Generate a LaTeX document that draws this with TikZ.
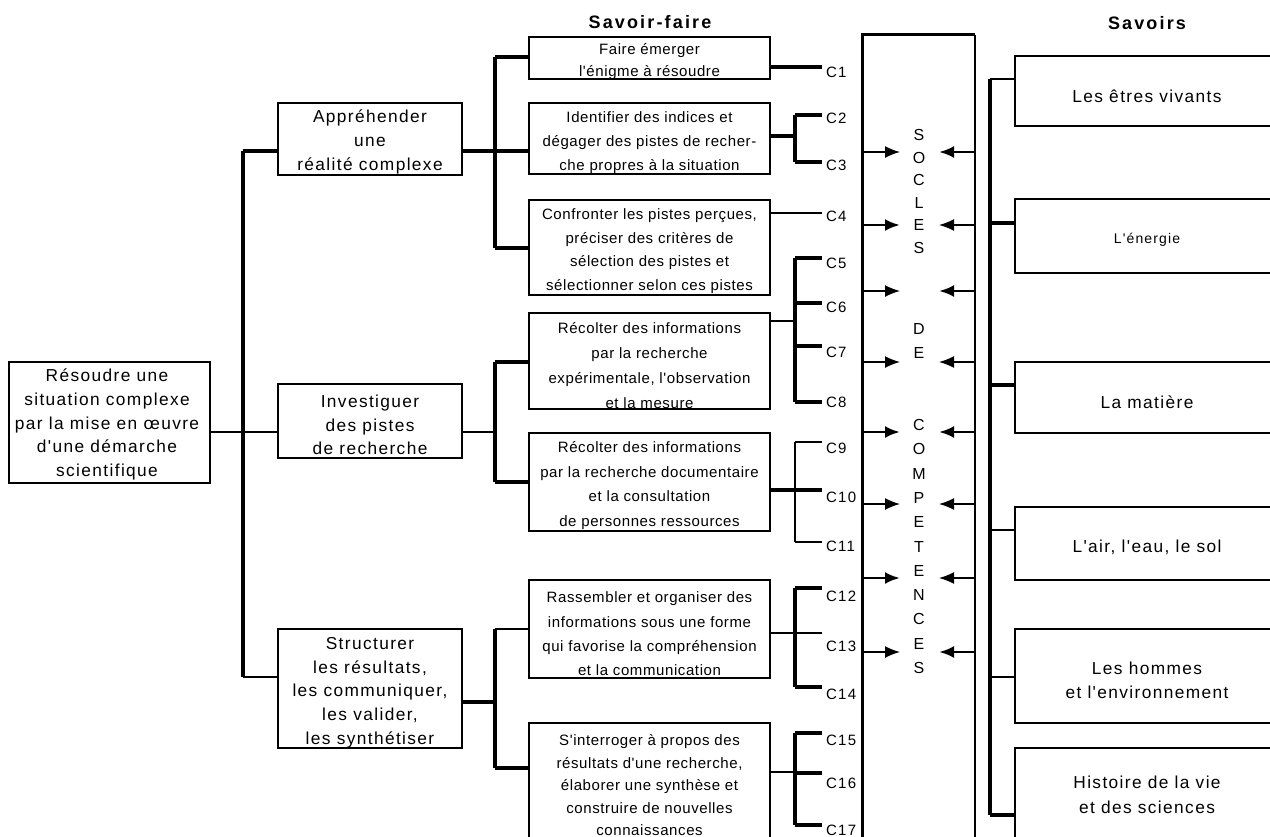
\documentclass[tikz,border=0pt]{standalone}
\usepackage{fontspec}
\setmainfont{Liberation Sans}
\newfontfamily\bigf[LetterSpace=8]{Liberation Sans}
\newfontfamily\smf[LetterSpace=4]{Liberation Sans}
\newfontfamily\titf[LetterSpace=12]{Liberation Sans}
\newfontfamily\cf[LetterSpace=8]{Liberation Sans}
\usetikzlibrary{arrows.meta}
\begin{document}
\begin{tikzpicture}[x=1pt,y=-1pt,
  thk/.style={line width=3.1pt},
  thn/.style={line width=1.5pt},
  bx/.style={draw, rectangle, inner sep=0pt, line width=2.8pt},
  bxm/.style={draw, rectangle, inner sep=0pt, line width=2.1pt},
  big/.style={font=\bigf\fontsize{17.3}{23.75}\selectfont, align=center, inner sep=0pt},
  sml/.style={font=\smf\fontsize{15}{24}\selectfont, align=center, inner sep=0pt},
  cl/.style={font=\cf\fontsize{15}{18}\selectfont, anchor=west, inner sep=0pt},
  tit/.style={font=\titf\bfseries\fontsize{18}{20}\selectfont, inner sep=0pt},
  let/.style={font=\fontsize{16}{18}\selectfont, inner sep=0pt},
  arr/.style={-{Latex[length=15pt,width=12pt]}, line width=1.5pt},
  arrk/.style={-{Latex[length=15pt,width=12pt]}, line width=2.8pt}]
\useasboundingbox (0,0) rectangle (1270,836);
\clip (0,0) rectangle (1270,836);
\fill[white] (0,0) rectangle (1270,836);

% titles
\node[tit] (tsf) at (650,22) {Savoir-faire};
\node[tit] (tsv) at (1147,23) {Savoirs};

% left column
\node[bx, minimum width=201, minimum height=121] (res) at (109.5,422.5) {};
\node[big] (tres) at (107,424.5) {Résoudre une\\situation complexe\\par la mise en œuvre\\d'une démarche\\scientifique};

\node[bx, minimum width=184, minimum height=72] (app) at (370,139) {};
\node[big] (tapp) at (370,142) {Appréhender\\une\\réalité complexe};
\node[bx, minimum width=184, minimum height=74] (inv) at (370,421) {};
\node[big] (tinv) at (370,425) {Investiguer\\des pistes\\de recherche};
\node[bxm, minimum width=184, minimum height=119] (str) at (370,688.5) {};
\node[big] (tstr) at (370,692.5) {Structurer\\les résultats,\\les communiquer,\\les valider,\\les synthétiser};

% savoir-faire boxes
\node[bx, minimum width=241, minimum height=42] (fe) at (649.5,58) {};
\node[sml, font=\smf\fontsize{15}{22}\selectfont] (tfe) at (649.5,61.5) {Faire émerger\\l'énigme à résoudre};
\node[bx, minimum width=241, minimum height=71] (ide) at (649.5,138.5) {};
\node[sml] (tide) at (649.5,142.5) {Identifier des indices et\\dégager des pistes de recher-\\che propres à la situation};
\node[bxm, minimum width=241, minimum height=95] (con) at (649.5,247.5) {};
\node[sml, font=\smf\fontsize{15}{23.7}\selectfont] (tcon) at (649.5,251) {Confronter les pistes perçues,\\préciser des critères de\\sélection des pistes et\\sélectionner selon ces pistes};
\node[bx, minimum width=241, minimum height=96] (rec1) at (649.5,361) {};
\node[sml, font=\smf\fontsize{15}{24.7}\selectfont] (trec1) at (649.5,365.5) {Récolter des informations\\par la recherche\\expérimentale, l'observation\\et la mesure};
\node[bxm, minimum width=241, minimum height=98] (rec2) at (649.5,482) {};
\node[sml, font=\smf\fontsize{15}{24.7}\selectfont] (trec2) at (649.5,485.5) {Récolter des informations\\par la recherche documentaire\\et la consultation\\de personnes ressources};
\node[bxm, minimum width=241, minimum height=98] (ras) at (649.5,629) {};
\node[sml, font=\smf\fontsize{15}{24.3}\selectfont] (tras) at (649.5,634) {Rassembler et organiser des\\informations sous une forme\\qui favorise la compréhension\\et la communication};
\node[bx, minimum width=241, minimum height=137] (sin) at (649.5,791.5) {};
\node[sml, font=\smf\fontsize{15}{22.5}\selectfont] (tsin) at (649.5,785.5) {S'interroger à propos des\\résultats d'une recherche,\\élaborer une synthèse et\\construire de nouvelles\\connaissances};

% trunk left
\coordinate (tk1) at (243,151);
\coordinate (tk2) at (243,432);
\coordinate (tk3) at (243,677);
\draw[thk] (tk1) -- (tk3);
\draw[thk] (tk1) -- (tk1 -| app.west);
\draw[thn] (res.east |- tk2) -- (tk2 -| inv.west);
\draw[thn] (tk3) -- (tk3 -| str.west);

% brackets middle
\coordinate (b1t) at (495,57);
\coordinate (b1m) at (495,151);
\coordinate (b1b) at (495,248);
\draw[thk] (app.east |- b1m) -- (b1m);
\draw[thk] (b1t) -- (b1b);
\draw[thk] (b1t) -- (b1t -| fe.west);
\draw[thk] (b1m) -- (b1m -| ide.west);
\draw[thk] (b1b) -- (b1b -| con.west);

\coordinate (b2t) at (495,362);
\coordinate (b2m) at (495,432);
\coordinate (b2b) at (495,482);
\draw[thn] (inv.east |- b2m) -- (b2m);
\draw[thk] (b2t) -- (b2b);
\draw[thk] (b2t) -- (b2t -| rec1.west);
\draw[thk] (b2b) -- (b2b -| rec2.west);

\coordinate (b3t) at (495,629);
\coordinate (b3m) at (495,702);
\coordinate (b3b) at (495,768);
\draw[thk] (str.east |- b3m) -- (b3m);
\draw[thk] (b3t) -- (b3b);
\draw[thn] (b3t) -- (b3t -| ras.west);
\draw[thk] (b3b) -- (b3b -| sin.west);

% competence labels
\foreach \n/\y in {1/72,2/118,3/165,4/216,5/263,6/307,7/352,8/402,9/448,10/497,11/546,12/596,13/646,14/694,15/740,16/783,17/830}
  \node[cl] (c\n) at (826,\y) {C\n};

% right connectors
\draw[thk] (fe.east |- 0,67) -- (822,67);
\coordinate (r2) at (795,136);
\draw[thk] (ide.east |- r2) -- (r2);
\draw[thk] (795,115) -- (795,162);
\draw[thk] (795,115) -- (822,115);
\draw[thk] (795,162) -- (822,162);
\draw[thn] (con.east |- 0,213) -- (822,213);
\coordinate (r3) at (795,321);
\draw[thn] (rec1.east |- r3) -- (r3);
\draw[thk] (795,258) -- (795,402);
\foreach \y in {258,303,346,402} \draw[thk] (795,\y) -- (822,\y);
\coordinate (r4) at (795,490);
\draw[thk] (rec2.east |- r4) -- (r4);
\draw[line width=2.1pt] (795,442) -- (795,542);
\draw[thn] (795,442) -- (822,442);
\draw[thk] (795,490) -- (822,490);
\draw[thn] (795,542) -- (822,542);
\draw[thn] (ras.east |- 0,633) -- (822,633);
\draw[thk] (795,588) -- (795,687);
\draw[thk] (795,588) -- (822,588);
\draw[thk] (795,687) -- (822,687);
\coordinate (r6) at (795,772);
\draw[thn] (sin.east |- r6) -- (r6);
\draw[thk] (795,733) -- (795,825);
\foreach \y in {733,773,825} \draw[thk] (795,\y) -- (822,\y);

% socles box
\node[minimum width=112, minimum height=825, inner sep=0pt] (soc) at (919,447.5) {};
\draw[thk] (soc.south west) -- (soc.north west) -- (soc.north east);
\draw[thn] (soc.north east) -- (soc.south east);
\foreach \l/\y [count=\i] in {S/135,O/157.5,C/180,L/202.5,E/225,S/247.5,D/329,E/353,C/425,O/449,M/474,P/498,E/522,T/547,E/571,N/595,C/619,E/644,S/668}
  \node[let] (sl\i) at (919,\y) {\l};

% arrows
\foreach \y/\sl/\sr [count=\i] in {152/arr/arrk,225/arrk/arr,291/arr/arrk,362/arr/arr,432/arrk/arrk,504/arr/arr,578/arrk/arr,652/arr/arrk}{
  \coordinate (la\i) at (863,\y);
  \coordinate (lb\i) at (900,\y);
  \coordinate (ra\i) at (975,\y);
  \coordinate (rb\i) at (939,\y);
  \draw[\sl] (la\i) -- (lb\i);
  \draw[\sr] (ra\i) -- (rb\i);
}

% savoirs
\node[bx, minimum width=285, minimum height=70] (sv1) at (1157.5,91) {};
\node[big] (tsv1) at (1147,96) {Les êtres vivants};
\node[bx, minimum width=285, minimum height=74] (sv2) at (1157.5,236) {};
\node[big, font=\bigf\fontsize{14}{18}\selectfont] (tsv2) at (1147,240) {L'énergie};
\node[bx, minimum width=285, minimum height=71] (sv3) at (1157.5,397.5) {};
\node[big] (tsv3) at (1147,402) {La matière};
\node[bxm, minimum width=285, minimum height=73] (sv4) at (1157.5,543.5) {};
\node[big] (tsv4) at (1147,547) {L'air, l'eau, le sol};
\node[bx, minimum width=285, minimum height=94] (sv5) at (1157.5,676) {};
\node[big, font=\bigf\fontsize{17.3}{24.5}\selectfont] (tsv5) at (1147,680.5) {Les hommes\\et l'environnement};
\node[bx, minimum width=285, minimum height=122] (sv6) at (1157.5,809) {};
\node[big, font=\bigf\fontsize{17.3}{24.5}\selectfont] (tsv6) at (1147,795) {Histoire de la vie\\et des sciences};

\coordinate (v1) at (990,79);
\coordinate (v6) at (990,815);
\draw[thk] (v1) -- (v6);
\draw[thn] (v1) -- (v1 -| sv1.west);
\draw[thk] (990,223) -- (sv2.west |- 0,223);
\draw[thk] (990,385) -- (sv3.west |- 0,385);
\draw[thn] (990,530) -- (sv4.west |- 0,530);
\draw[thn] (990,677) -- (sv5.west |- 0,677);
\draw[thk] (v6) -- (v6 -| sv6.west);
\end{tikzpicture}
\end{document}
